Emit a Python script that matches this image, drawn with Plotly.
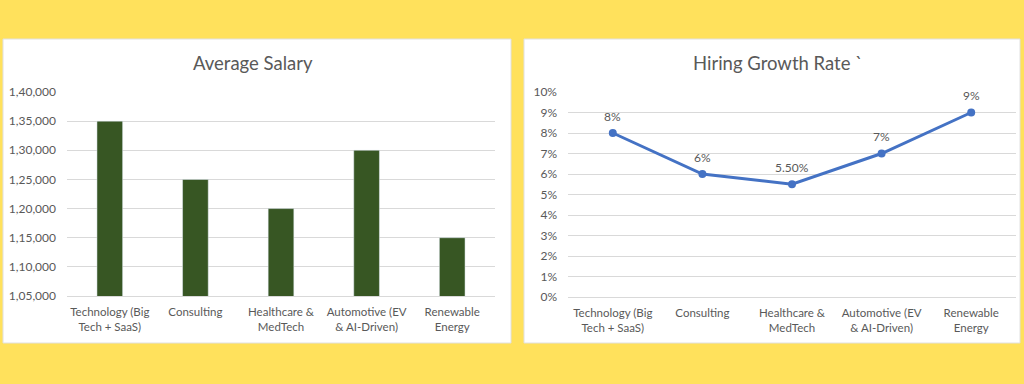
import plotly.graph_objects as go

categories = ["Technology (Big<br>Tech + SaaS)", "Consulting", "Healthcare &<br>MedTech",
              "Automotive (EV<br>& AI-Driven)", "Renewable<br>Energy"]
salary = [135000, 125000, 120000, 130000, 115000]
salary_ticks = [105000, 110000, 115000, 120000, 125000, 130000, 135000, 140000]
salary_ticktext = ["1,05,000", "1,10,000", "1,15,000", "1,20,000", "1,25,000",
                   "1,30,000", "1,35,000", "1,40,000"]
growth = [0.08, 0.06, 0.055, 0.07, 0.09]
growth_labels = ["8%", "6%", "5.50%", "7%", "9%"]
growth_ticks = [i / 100 for i in range(0, 11)]
growth_ticktext = [f"{i}%" for i in range(0, 11)]

W, H = 1024, 384
FONT = "Lato"
GRAY = "#595959"
GRID = "#D9D9D9"

def px(x):
    return x / W

def py(y):
    return 1 - y / H

fig = go.Figure()
fig.add_trace(go.Bar(x=categories, y=salary, marker_color="#375623", width=0.3,
                     xaxis="x", yaxis="y", showlegend=False))
fig.add_trace(go.Scatter(x=categories, y=growth, mode="lines+markers",
                         line=dict(color="#4472C4", width=3),
                         marker=dict(color="#4472C4", size=8),
                         xaxis="x2", yaxis="y2", showlegend=False, cliponaxis=False))

shapes = [
    dict(type="rect", xref="paper", yref="paper", x0=px(3), x1=px(511), y0=py(343), y1=py(39),
         fillcolor="white", line=dict(color="#E0E0E0", width=1), layer="below"),
    dict(type="rect", xref="paper", yref="paper", x0=px(524), x1=px(1020), y0=py(343), y1=py(39),
         fillcolor="white", line=dict(color="#E0E0E0", width=1), layer="below"),
]

annotations = [
    dict(text="Average Salary", xref="paper", yref="paper", x=px(253), y=py(63),
         xanchor="center", yanchor="middle", showarrow=False,
         font=dict(family=FONT, size=18.5, color=GRAY)),
    dict(text="Hiring Growth Rate `", xref="paper", yref="paper", x=px(778), y=py(63),
         xanchor="center", yanchor="middle", showarrow=False,
         font=dict(family=FONT, size=18.5, color=GRAY)),
]
for c, v, t in zip(categories, growth, growth_labels):
    annotations.append(dict(text=t, x=c, y=v, xref="x2", yref="y2", yshift=17,
                            xanchor="center", yanchor="middle", showarrow=False,
                            font=dict(family=FONT, size=12, color=GRAY)))

axis_font = dict(family=FONT, size=12, color=GRAY)
xfont = dict(family=FONT, size=11.5, color=GRAY)
fig.update_layout(
    width=W, height=H, margin=dict(l=0, r=0, t=0, b=0, pad=0, autoexpand=False),
    paper_bgcolor="#FFE15C", plot_bgcolor="rgba(0,0,0,0)",
    shapes=shapes, bargap=0.7, annotations=annotations,
    xaxis=dict(domain=[px(67), px(495)], tickfont=xfont, range=[-0.5, 4.5],
               showgrid=False, showline=True, linecolor=GRID, ticks="",
               ticklabelstandoff=5, automargin=False),
    yaxis=dict(domain=[py(296), py(92)], range=[105000, 140000], tickvals=salary_ticks,
               ticktext=salary_ticktext, tickfont=axis_font, showgrid=True, gridcolor=GRID,
               zeroline=False, showline=False, ticks="", ticklabelstandoff=10,
               automargin=False),
    xaxis2=dict(domain=[px(568), px(1016)], anchor="y2", tickfont=xfont, range=[-0.5, 4.5],
                showgrid=False, showline=True, linecolor=GRID, ticks="",
                ticklabelstandoff=5, automargin=False),
    yaxis2=dict(domain=[py(297), py(92)], anchor="x2", range=[0, 0.10], tickvals=growth_ticks,
                ticktext=growth_ticktext, tickfont=axis_font, showgrid=True, gridcolor=GRID,
                zeroline=False, showline=False, ticks="", ticklabelstandoff=10,
                automargin=False),
)

fig.write_html("out.html", config={"displayModeBar": False},
               post_script="document.body.style.margin='0';document.body.style.overflow='hidden';")
